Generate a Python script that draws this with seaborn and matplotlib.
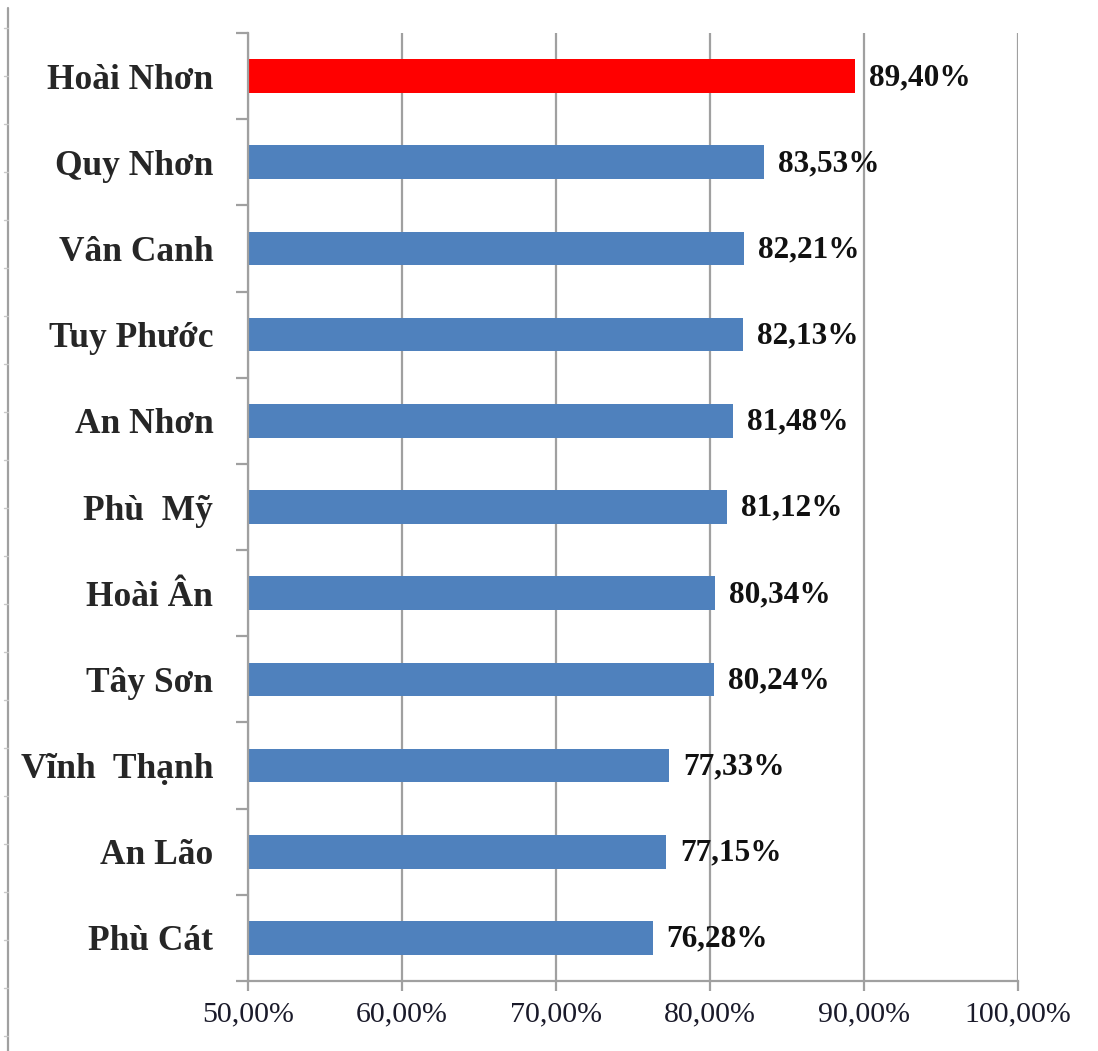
import matplotlib
matplotlib.use("Agg")
import matplotlib.pyplot as plt
from matplotlib.lines import Line2D
from matplotlib.ticker import FixedLocator, FuncFormatter
import seaborn as sns
import pandas as pd
import numpy as np

# Tỷ lệ theo địa phương (%)
districts = ["Hoài Nhơn", "Quy Nhơn", "Vân Canh", "Tuy Phước", "An Nhơn", "Phù  Mỹ",
             "Hoài Ân", "Tây Sơn", "Vĩnh  Thạnh", "An Lão", "Phù Cát"]
rates = [89.40, 83.53, 82.21, 82.13, 81.48, 81.12, 80.34, 80.24, 77.33, 77.15, 76.28]
x_ticks = [50, 60, 70, 80, 90, 100]

BLUE = "#4F81BD"
RED = "#FF0000"
GRID = "#A0A0A0"

sns.set_style("white")
plt.rcParams["font.family"] = ["Liberation Serif", "DejaVu Serif"]

df = pd.DataFrame({"district": districts, "rate": rates})
palette = {d: (RED if i == 0 else BLUE) for i, d in enumerate(districts)}

fig = plt.figure(figsize=(10.98, 10.51), dpi=100)
ax = fig.add_axes([248 / 1098, 1 - 981 / 1051, 770 / 1098, 948 / 1051])

sns.barplot(data=df, x="rate", y="district", hue="district", palette=palette,
            order=districts, orient="h", width=0.39, legend=False, ax=ax,
            saturation=1, edgecolor="none")

ax.set_xlim(50, 100)
ax.set_ylim(len(districts) - 0.5, -0.5)
ax.set_xticks(x_ticks)
ax.xaxis.set_major_formatter(FuncFormatter(lambda v, p: f"{v:.2f}%".replace(".", ",")))
ax.set_xlabel("")
ax.set_ylabel("")

# vertical gridlines
ax.grid(axis="x", color=GRID, linewidth=1.6)
ax.set_axisbelow(True)

for side in ["top", "right"]:
    ax.spines[side].set_visible(False)
for side in ["left", "bottom"]:
    ax.spines[side].set_color(GRID)
    ax.spines[side].set_linewidth(1.6)

# category ticks sit between the bars
ax.yaxis.set_minor_locator(FixedLocator(np.arange(-0.5, len(districts), 1.0)))
ax.tick_params(axis="y", which="major", length=0, pad=25, labelsize=25.5)
ax.tick_params(axis="y", which="minor", length=9, width=1.6, color=GRID, left=True)
ax.tick_params(axis="x", which="major", length=7, width=1.6, color=GRID, pad=8,
               labelsize=21.5, labelcolor="#1a1a2a", bottom=True)
for lbl in ax.get_yticklabels():
    lbl.set_fontweight("bold")

for i, v in enumerate(rates):
    ax.annotate(f"{v:.2f}%".replace(".", ","), xy=(v, i), xytext=(10, -1),
                textcoords="offset points", va="center", ha="left",
                fontsize=22.5, fontweight="bold", color="#111111")

# thin frame line along the left edge with small marks
fig.add_artist(Line2D([8 / 1098, 8 / 1098], [0, 1 - 8 / 1051], color=GRID, linewidth=1.6))
for y in np.arange(28, 1051, 48):
    fig.add_artist(Line2D([4 / 1098, 8 / 1098], [1 - y / 1051, 1 - y / 1051],
                          color="#C8C8C8", linewidth=1.0))

fig.savefig("out.png", dpi=100, facecolor="white")
